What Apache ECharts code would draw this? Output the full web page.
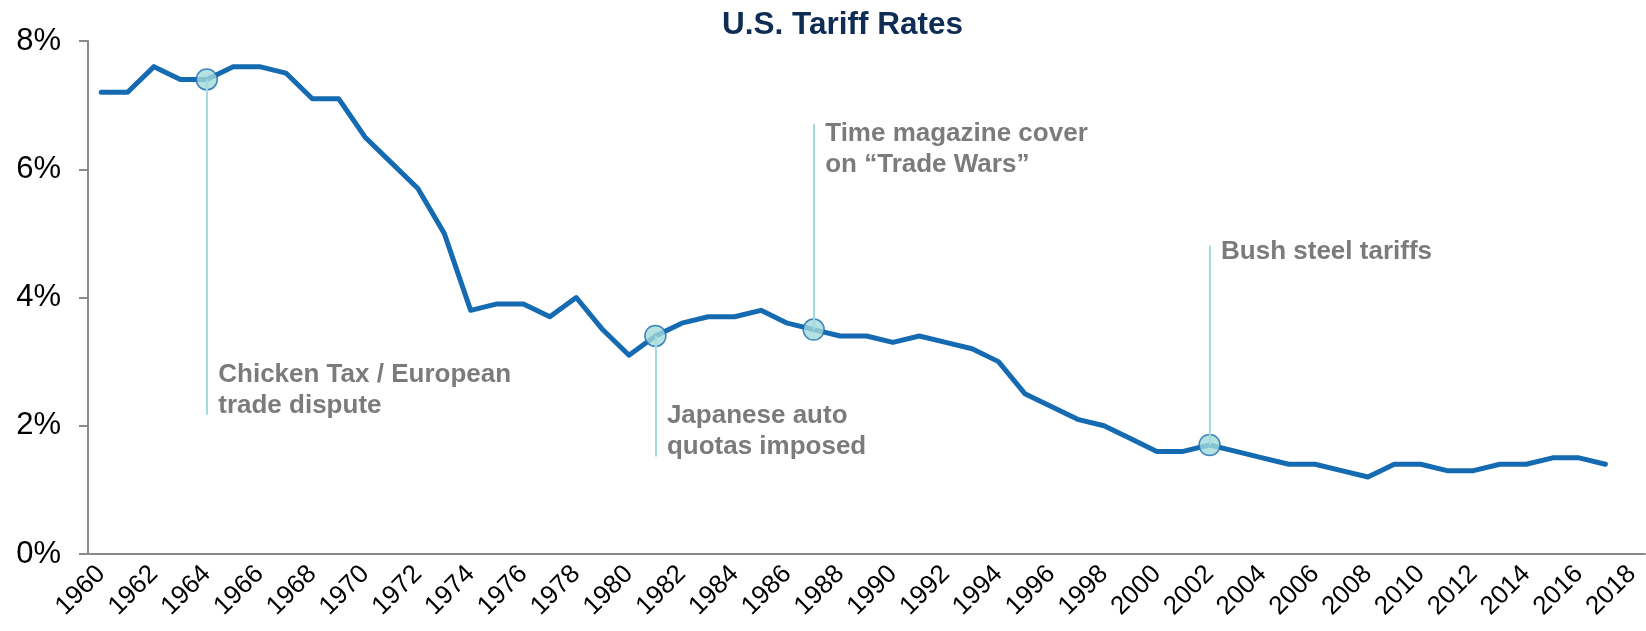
<!DOCTYPE html>
<html>
<head>
<meta charset="utf-8">
<title>U.S. Tariff Rates</title>
<script src="https://cdn.jsdelivr.net/npm/echarts@6/dist/echarts.min.js"></script>
<style>
  html, body { margin: 0; padding: 0; background: #ffffff; }
  #chart { width: 1646px; height: 631px; }
</style>
</head>
<body>
<div id="chart"></div>
<script>
// Years on the category axis (labels every other year)
const years = [];
for (let y = 1960; y <= 2018; y++) years.push(String(y));

// Average U.S. tariff rate, percent, 1960–2017
const tariffRates = [
  7.2, 7.2, 7.6, 7.4, 7.4, 7.6, 7.6, 7.5, 7.1, 7.1,
  6.5, 6.1, 5.7, 5.0, 3.8, 3.9, 3.9, 3.7, 4.0, 3.5,
  3.1, 3.4, 3.6, 3.7, 3.7, 3.8, 3.6, 3.5, 3.4, 3.4,
  3.3, 3.4, 3.3, 3.2, 3.0, 2.5, 2.3, 2.1, 2.0, 1.8,
  1.6, 1.6, 1.7, 1.6, 1.5, 1.4, 1.4, 1.3, 1.2, 1.4,
  1.4, 1.3, 1.3, 1.4, 1.4, 1.5, 1.5, 1.4
];

// Trade events marked on the line
const eventYears = ['1964', '1981', '1987', '2002'];
const eventNotes = [
  'Chicken Tax / European\ntrade dispute',
  'Japanese auto\nquotas imposed',
  'Time magazine cover\non \u201cTrade Wars\u201d',
  'Bush steel tariffs'
];

// Callout geometry in axis units: where each leader line ends and where its note starts
const leaderEnds = [2.17, 1.52, 6.71, 4.81];
const noteTops = [3.03, 2.39, 6.78, 4.95];

const yTicks = { min: 0, max: 8, interval: 2 };

const FONT = '"Liberation Sans", Arial, Helvetica, sans-serif';
const LINE_BLUE = '#156bb2';
const LEADER = '#a3dae0';

function rateOf(year) {
  return tariffRates[years.indexOf(year)];
}

const markerData = eventYears.map(y => [y, rateOf(y)]);
const leaderData = eventYears.map((y, i) => [
  { coord: [y, rateOf(y)] },
  { coord: [y, leaderEnds[i]] }
]);
const noteData = eventYears.map((y, i) => ({
  value: [y, noteTops[i]],
  label: { formatter: eventNotes[i] }
}));

const chart = echarts.init(document.getElementById('chart'), null, { renderer: 'canvas' });

chart.setOption({
  animation: false,
  backgroundColor: '#ffffff',
  title: {
    text: 'U.S. Tariff Rates',
    left: 722,
    top: 9,
    padding: 0,
    textStyle: {
      fontFamily: FONT,
      fontSize: 31.5,
      fontWeight: 'bold',
      color: '#0e2d55'
    }
  },
  grid: {
    left: 88, right: 1, top: 41, bottom: 77,
    containLabel: false,
    outerBoundsMode: 'none'
  },
  xAxis: {
    type: 'category',
    data: years,
    boundaryGap: true,
    axisLine: { show: true, lineStyle: { color: '#8a8a8a', width: 2 } },
    axisTick: { show: false },
    splitLine: { show: false },
    axisLabel: {
      interval: 1,
      rotate: 45,
      margin: 16,
      fontFamily: FONT,
      fontSize: 26,
      color: '#000000'
    }
  },
  yAxis: {
    type: 'value',
    min: yTicks.min,
    max: yTicks.max,
    interval: yTicks.interval,
    axisLine: { show: true, lineStyle: { color: '#8a8a8a', width: 2 } },
    axisTick: { show: true, length: 9, lineStyle: { color: '#8a8a8a', width: 2 } },
    splitLine: { show: false },
    axisLabel: {
      formatter: '{value}%',
      margin: 27,
      fontFamily: FONT,
      fontSize: 31,
      color: '#000000'
    }
  },
  series: [
    {
      name: 'Leaders',
      type: 'scatter',
      data: [],
      z: 1,
      silent: true,
      markLine: {
        silent: true,
        symbol: ['none', 'none'],
        label: { show: false },
        lineStyle: { color: LEADER, width: 2, type: 'solid' },
        data: leaderData
      }
    },
    {
      name: 'Tariff rate',
      type: 'line',
      data: tariffRates,
      z: 2,
      symbol: 'none',
      smooth: false,
      lineStyle: { color: LINE_BLUE, width: 5, join: 'round', cap: 'round' },
      silent: true
    },
    {
      name: 'Events',
      type: 'scatter',
      data: markerData,
      z: 3,
      symbol: 'circle',
      symbolSize: 21,
      itemStyle: { color: '#a2d9da', borderColor: LINE_BLUE, borderWidth: 1.5 },
      silent: true
    },
    {
      name: 'Notes',
      type: 'scatter',
      data: noteData,
      z: 4,
      symbolSize: 1,
      itemStyle: { color: 'rgba(0,0,0,0)' },
      silent: true,
      label: {
        show: true,
        position: [12, 0],
        align: 'left',
        verticalAlign: 'top',
        fontFamily: FONT,
        fontSize: 26,
        fontWeight: 'bold',
        lineHeight: 31,
        color: '#5a5a5a'
      }
    }
  ]
});
</script>
</body>
</html>
